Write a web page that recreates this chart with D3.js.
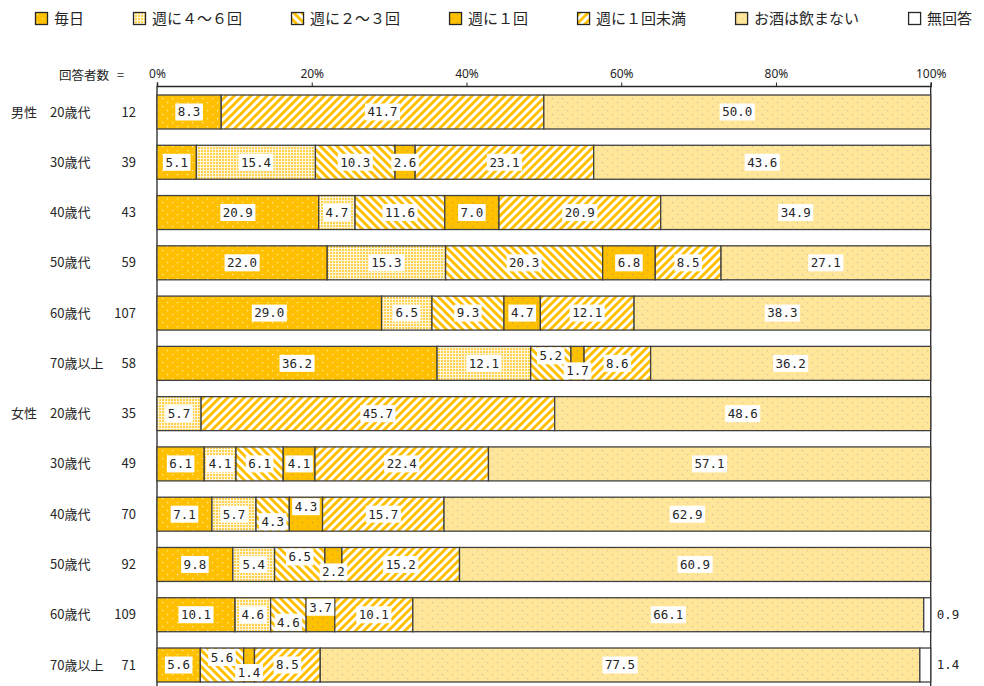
<!DOCTYPE html>
<html>
<head>
<meta charset="utf-8">
<script src="https://cdn.jsdelivr.net/npm/d3@7"></script>
<style>
  html, body { margin: 0; padding: 0; background: #fff; }
  svg { display: block; font-family: "Noto Sans CJK JP", "Noto Sans", sans-serif; }
</style>
</head>
<body>
<svg id="chart" width="984" height="686"></svg>
<script>
// 飲酒頻度（性・年代別）
const categories = ["毎日", "週に４～６回", "週に２～３回", "週に１回", "週に１回未満", "お酒は飲まない", "無回答"];
const genderLabels = ["男性", "", "", "", "", "", "女性", "", "", "", "", ""];
const ageLabels = ["20歳代", "30歳代", "40歳代", "50歳代", "60歳代", "70歳以上",
                   "20歳代", "30歳代", "40歳代", "50歳代", "60歳代", "70歳以上"];
const counts = [12, 39, 43, 59, 107, 58, 35, 49, 70, 92, 109, 71];

const daily       = [8.3, 5.1, 20.9, 22.0, 29.0, 36.2, 0,    6.1, 7.1, 9.8, 10.1, 5.6];
const perWeek4to6 = [0,  15.4, 4.7, 15.3, 6.5, 12.1, 5.7,  4.1, 5.7, 5.4, 4.6, 0];
const perWeek2to3 = [0,  10.3, 11.6, 20.3, 9.3, 5.2, 0,    6.1, 4.3, 6.5, 4.6, 5.6];
const perWeek1    = [0,   2.6, 7.0, 6.8, 4.7, 1.7,  0,     4.1, 4.3, 2.2, 3.7, 1.4];
const lessThan1   = [41.7, 23.1, 20.9, 8.5, 12.1, 8.6, 45.7, 22.4, 15.7, 15.2, 10.1, 8.5];
const nonDrinker  = [50.0, 43.6, 34.9, 27.1, 38.3, 36.2, 48.6, 57.1, 62.9, 60.9, 66.1, 77.5];
const noAnswer    = [0, 0, 0, 0, 0, 0, 0, 0, 0, 0, 0.9, 1.4];

const tickValues = [0, 20, 40, 60, 80, 100];

const series = [daily, perWeek4to6, perWeek2to3, perWeek1, lessThan1, nonDrinker, noAnswer];

// labels in crowded neighbouring segments are lifted (-1) or dropped (+1)
const labelNudge = {
  "5-2": -1, "5-3": 1,
  "8-2": 1,  "8-3": -1,
  "9-2": -1, "9-3": 1,
  "10-2": 1, "10-3": -1,
  "11-2": -1, "11-3": 1
};

const svg = d3.select("#chart");
const W = 984, H = 686;
const ink = "#262626";

// ---- fill patterns ----
const defs = svg.append("defs");
function dotPattern(id, bg, dot, w, h, op) {
  const p = defs.append("pattern").attr("id", id).attr("patternUnits", "userSpaceOnUse")
    .attr("width", w).attr("height", h);
  p.append("rect").attr("width", w).attr("height", h).attr("fill", bg);
  p.append("rect").attr("x", 2).attr("y", 2).attr("width", 1.2).attr("height", 1.2).attr("fill", dot).attr("opacity", op);
  p.append("rect").attr("x", 2 + w / 2).attr("y", 2 + h / 2).attr("width", 1.2).attr("height", 1.2).attr("fill", dot).attr("opacity", op);
}
function stripePattern(id, angle) {
  const p = defs.append("pattern").attr("id", id).attr("patternUnits", "userSpaceOnUse")
    .attr("width", 5.8).attr("height", 5.8).attr("patternTransform", `rotate(${angle})`);
  p.append("rect").attr("width", 5.8).attr("height", 5.8).attr("fill", "#ffffff");
  p.append("rect").attr("width", 2.9).attr("height", 5.8).attr("fill", "#FFC000");
}
dotPattern("p0", "#FFC000", "#ffffff", 10, 8, 0.75);
(function () {
  const p = defs.append("pattern").attr("id", "p1").attr("patternUnits", "userSpaceOnUse")
    .attr("width", 3).attr("height", 3);
  p.append("rect").attr("width", 3).attr("height", 3).attr("fill", "#FFF6DA");
  p.append("rect").attr("width", 2).attr("height", 2).attr("fill", "#FFD24D");
})();
stripePattern("p2", -45);
dotPattern("p3", "#FFC000", "#8c8c8c", 10, 8, 0.6);
stripePattern("p4", 45);
dotPattern("p5", "#FFE699", "#a8a8a8", 10, 8, 0.6);
(function () {
  const p = defs.append("pattern").attr("id", "p6").attr("patternUnits", "userSpaceOnUse")
    .attr("width", 4).attr("height", 4);
  p.append("rect").attr("width", 4).attr("height", 4).attr("fill", "#ffffff");
})();

// ---- scales ----
const x = d3.scaleLinear().domain([0, 1]).range([157, 930.7]);
const y = d3.scaleBand().domain(d3.range(ageLabels.length)).range([95, 682])
  .paddingInner(0.324).paddingOuter(0);
const bh = y.bandwidth();

// ---- legend ----
const legend = svg.append("g");
let lx = 35;
categories.forEach((c, i) => {
  const g = legend.append("g");
  g.append("rect").attr("x", lx + 0.5).attr("y", 12.5).attr("width", 12).attr("height", 12)
    .attr("fill", `url(#p${i})`).attr("stroke", ink).attr("stroke-width", 1.3);
  const t = g.append("text").attr("x", lx + 19).attr("y", 24).attr("font-size", 15)
    .attr("fill", ink).text(c);
  lx += 19 + t.node().getComputedTextLength() + 49;
});

// ---- axis ----
const axis = svg.append("g").attr("transform", "translate(0,86)")
  .call(d3.axisTop(x).tickValues(tickValues.map(v => v / 100))
    .tickFormat(d => Math.round(d * 100) + "%").tickSize(3.5).tickPadding(5));
axis.select(".domain").attr("stroke", ink).attr("stroke-width", 1.5);
axis.selectAll(".tick line").attr("stroke", ink);
axis.selectAll(".tick text").attr("font-family", "'Liberation Sans Narrow', 'Noto Sans', sans-serif")
  .attr("font-size", 12).attr("fill", ink);

// frame lines at 0% and 100%
svg.append("line").attr("x1", x(0)).attr("x2", x(0)).attr("y1", 86).attr("y2", H)
  .attr("stroke", ink).attr("stroke-width", 1.3);
svg.append("line").attr("x1", x(1)).attr("x2", x(1)).attr("y1", 86).attr("y2", H)
  .attr("stroke", ink).attr("stroke-width", 1.3);

// ---- row headers ----
svg.append("text").attr("x", 59).attr("y", 80).attr("font-size", 12.5).attr("fill", ink)
  .text("回答者数");
svg.append("text").attr("x", 117).attr("y", 80).attr("font-size", 12.5).attr("fill", ink)
  .text("=");
const rows = svg.append("g");
ageLabels.forEach((a, i) => {
  const cy = y(i) + bh / 2;
  if (genderLabels[i]) rows.append("text").attr("x", 11).attr("y", cy).attr("dy", "0.35em")
    .attr("font-size", 13).attr("fill", ink).text(genderLabels[i]);
  rows.append("text").attr("x", 50).attr("y", cy).attr("dy", "0.35em")
    .attr("font-size", 13).attr("fill", ink).text(a);
  rows.append("text").attr("x", 136).attr("y", cy).attr("dy", "0.35em").attr("text-anchor", "end")
    .attr("font-size", 13).attr("fill", ink).text(counts[i]);
});

// ---- 100% stacked bars ----
const table = ageLabels.map((_, r) => {
  const o = { row: r };
  series.forEach((s, k) => { o[k] = s[r]; });
  return o;
});
const stack = d3.stack().keys(d3.range(series.length)).offset(d3.stackOffsetExpand);
const layers = stack(table);

const bars = svg.append("g");
layers.forEach(layer => {
  const k = layer.key;
  layer.forEach(seg => {
    const v = seg.data[k];
    if (!(v > 0)) return;
    bars.append("rect")
      .attr("x", x(seg[0])).attr("y", y(seg.data.row))
      .attr("width", x(seg[1]) - x(seg[0])).attr("height", bh)
      .attr("fill", `url(#p${k})`)
      .attr("stroke", "#404040").attr("stroke-width", 1.3);
  });
});

// ---- value labels ----
const labels = svg.append("g").attr("font-family", "'DejaVu Sans Mono', monospace").attr("font-size", 12.5);
layers.forEach(layer => {
  const k = layer.key;
  layer.forEach(seg => {
    const v = seg.data[k];
    if (!(v > 0)) return;
    const r = seg.data.row;
    const txt = v.toFixed(1);
    if (k === series.length - 1) {
      labels.append("text").attr("x", x(1) + 6).attr("y", y(r) + bh / 2).attr("dy", "0.35em")
        .attr("fill", ink).text(txt);
      return;
    }
    const nudge = labelNudge[`${r}-${k}`] || 0;
    const cx = (x(seg[0]) + x(seg[1])) / 2;
    const cy = y(r) + bh / 2 + nudge * 7.5;
    const g = labels.append("g");
    const t = g.append("text").attr("x", cx).attr("y", cy).attr("dy", "0.35em")
      .attr("text-anchor", "middle").attr("fill", ink).text(txt);
    const bb = t.node().getBBox();
    g.insert("rect", "text").attr("x", bb.x - 2.5).attr("y", cy - 8.5)
      .attr("width", bb.width + 5).attr("height", 17).attr("fill", "#ffffff");
  });
});
</script>
</body>
</html>
